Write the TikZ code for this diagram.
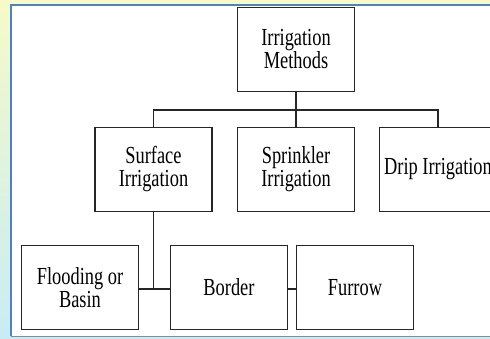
\documentclass[tikz,border=0pt]{standalone}
\usepackage{fontspec}
\setmainfont{Liberation Serif}[FakeStretch=0.75]
\definecolor{panelblue}{RGB}{79,129,189}
\definecolor{bgyellow}{RGB}{246,250,200}
\definecolor{bgcyan}{RGB}{200,236,245}
\begin{document}
\begin{tikzpicture}[x=1pt,y=-1pt,
  box/.style={draw=black!85, line width=1.6pt, minimum width=117pt, minimum height=84pt,
    inner sep=0pt, align=center, font=\fontsize{24.5}{23}\selectfont, fill=white},
  link/.style={draw=black!85, line width=1.6pt}]
\useasboundingbox (0,0) rectangle (490,339);
% background outside the panel
\shade[top color=bgyellow, bottom color=bgcyan] (0,0) rectangle (490,339);
% panel
\fill[white] (11,5) rectangle (500,336);
\draw[panelblue, line width=1.6pt] (11,336) -- (11,5) -- (500,5);
\draw[black!45, line width=1pt] (11,336) -- (500,336);
% nodes
\node[box] (top) at (296,49.5) {Irrigation\\Methods};
\node[box] (surface) at (153.5,169.5) {Surface\\Irrigation};
\node[box] (sprinkler) at (296,169.5) {Sprinkler\\Irrigation};
\node[box] (drip) at (438,169.5) {Drip Irrigation};
\node[box] (flood) at (80,287.5) {Flooding or\\Basin};
\node[box] (border) at (229,287.5) {Border};
\node[box] (furrow) at (355,287.5) {Furrow};
% connectors
\coordinate (bar) at (296,110);
\coordinate (joint) at (153.5,289);
\draw[link] (top.south) -- (bar);
\draw[link] (surface.north) |- (bar) -| (drip.north);
\draw[link] (bar) -- (sprinkler.north);
\draw[link] (surface.south) -- (joint);
\draw[link] (flood.east |- joint) -- (border.west |- joint);
\draw[link] (border.east |- joint) -- (furrow.west |- joint);
\end{tikzpicture}
\end{document}
